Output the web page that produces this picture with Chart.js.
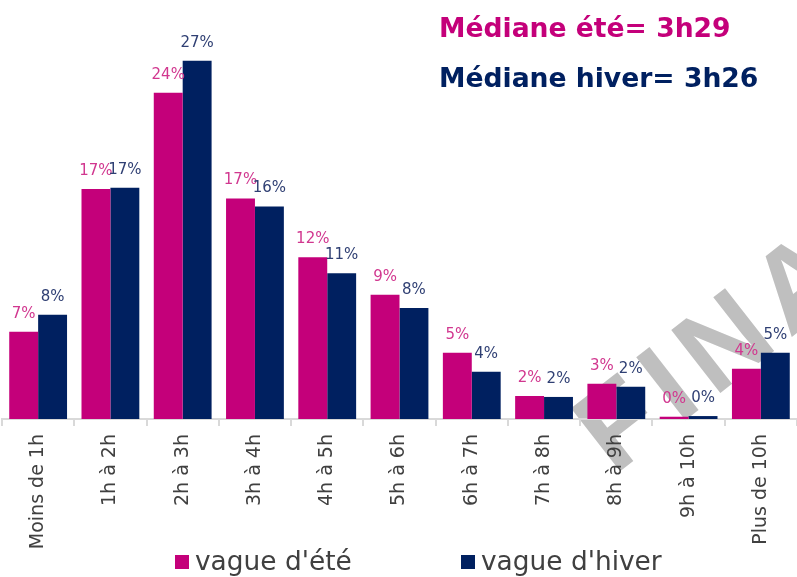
<!DOCTYPE html>
<html>
<head>
<meta charset="utf-8">
<script src="https://cdn.jsdelivr.net/npm/chart.js@4"></script>
<style>
  html, body { margin: 0; padding: 0; background: #fff; }
  #wrap { width: 797px; height: 577px; position: relative; }
</style>
</head>
<body>
<div id="wrap"><canvas id="chart" width="797" height="577"></canvas></div>
<script>
const categories = ['Moins de 1h', '1h à 2h', '2h à 3h', '3h à 4h', '4h à 5h', '5h à 6h',
  '6h à 7h', '7h à 8h', '8h à 9h', '9h à 10h', 'Plus de 10h'];
const ete = [6.53, 17.2, 24.4, 16.5, 12.1, 9.3, 4.96, 1.72, 2.64, 0.17, 3.76];
const hiver = [7.8, 17.3, 26.8, 15.9, 10.9, 8.3, 3.54, 1.65, 2.42, 0.22, 4.96];
const seriesNames = ["vague d'été", "vague d'hiver"];
const medianLines = ['Médiane été= 3h29', 'Médiane hiver= 3h26'];

const MAGENTA = '#C4007A';
const NAVY = '#002060';
const FONT = '"DejaVu Sans", sans-serif';

// watermark behind everything
const watermark = {
  id: 'watermark',
  beforeDraw(chart) {
    const ctx = chart.ctx;
    ctx.save();
    ctx.translate(614, 476);
    ctx.rotate(-38 * Math.PI / 180);
    ctx.font = 'bold 116px "Liberation Sans", sans-serif';
    ctx.letterSpacing = '12px';
    ctx.fillStyle = '#BFBFBF';
    ctx.textBaseline = 'alphabetic';
    ctx.fillText('FINAL', 0, 0);
    ctx.restore();
  }
};

// value labels above bars
const barLabels = {
  id: 'barLabels',
  afterDatasetsDraw(chart) {
    const ctx = chart.ctx;
    ctx.save();
    ctx.font = '15px ' + FONT;
    ctx.textAlign = 'center';
    ctx.textBaseline = 'alphabetic';
    chart.data.datasets.forEach((ds, i) => {
      const meta = chart.getDatasetMeta(i);
      ctx.fillStyle = i === 0 ? '#D1378F' : '#2F3F73';
      meta.data.forEach((bar, j) => {
        ctx.fillText(Math.round(ds.data[j]) + '%', bar.x, bar.y - 14);
      });
    });
    ctx.restore();
  }
};

// medians + legend
const extras = {
  id: 'extras',
  afterDraw(chart) {
    const ctx = chart.ctx;
    ctx.save();
    ctx.font = 'bold 26px ' + FONT;
    let w = ctx.measureText(medianLines[1]).width;
    let size = 26 * 319 / w;
    ctx.font = 'bold ' + size.toFixed(1) + 'px ' + FONT;
    ctx.textAlign = 'left';
    ctx.textBaseline = 'alphabetic';
    ctx.fillStyle = MAGENTA;
    ctx.fillText(medianLines[0], 439, 37);
    ctx.fillStyle = NAVY;
    ctx.fillText(medianLines[1], 439, 87);

    // legend
    const items = [[175, MAGENTA], [461, NAVY]];
    ctx.font = '22px ' + FONT;
    w = ctx.measureText(seriesNames[0]).width;
    size = 22 * 157 / w;
    ctx.font = size.toFixed(1) + 'px ' + FONT;
    items.forEach(([x, col], i) => {
      ctx.fillStyle = col;
      ctx.fillRect(x, 555, 14, 14);
      ctx.fillStyle = '#404040';
      ctx.fillText(seriesNames[i], x + 20, 570);
    });
    ctx.restore();
  }
};

new Chart(document.getElementById('chart'), {
  type: 'bar',
  data: {
    labels: categories,
    datasets: [
      { label: seriesNames[0], data: ete, backgroundColor: MAGENTA },
      { label: seriesNames[1], data: hiver, backgroundColor: NAVY }
    ]
  },
  options: {
    responsive: false,
    animation: false,
    devicePixelRatio: 1,
    layout: { padding: { top: 18, left: 2, right: 0, bottom: 18 } },
    datasets: { bar: { categoryPercentage: 0.8, barPercentage: 1.0 } },
    plugins: {
      legend: { display: false },
      tooltip: { enabled: false }
    },
    scales: {
      x: {
        grid: {
          offset: true,
          drawOnChartArea: false,
          drawTicks: true,
          tickLength: 7,
          color: '#D9D9D9',
          lineWidth: 2
        },
        border: { display: true, color: '#D9D9D9', width: 2 },
        ticks: {
          minRotation: 90,
          maxRotation: 90,
          padding: 8,
          color: '#404040',
          font: { family: FONT, size: 19 }
        },
        afterFit: s => { s.height = 140; }
      },
      y: {
        display: false,
        min: 0,
        max: 30
      }
    }
  },
  plugins: [watermark, barLabels, extras]
});
</script>
</body>
</html>
